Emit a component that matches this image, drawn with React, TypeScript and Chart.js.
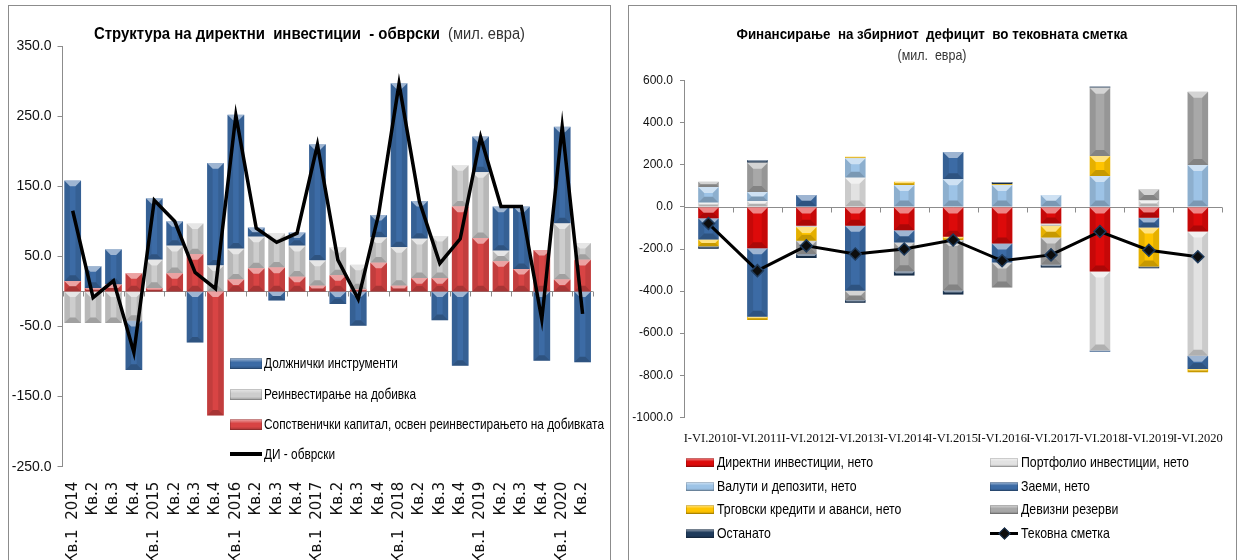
import React, { useEffect, useMemo, useRef } from "react";
import { Chart, registerables } from "chart.js";

Chart.register(...registerables);

const SANS = "'Liberation Sans', Arial, sans-serif";
const SERIF = "'Liberation Serif', serif";

// ---------- Left chart data (мил. евра) ----------
const quarterLabels = [
  "Кв.1  2014", "Кв.2", "Кв.3", "Кв.4",
  "Кв.1  2015", "Кв.2", "Кв.3", "Кв.4",
  "Кв.1  2016", "Кв.2", "Кв.3", "Кв.4",
  "Кв.1  2017", "Кв.2", "Кв.3", "Кв.4",
  "Кв.1  2018", "Кв.2", "Кв.3", "Кв.4",
  "Кв.1  2019", "Кв.2", "Кв.3", "Кв.4",
  "Кв.1  2020", "Кв.2",
];
const equityCapital = [15, 5, 10, 26, 5, 26, 53, -177, 17, 33, 34, 21, 8, 23, 3, 41, 8, 19, 19, 121, 76, 43, 32, 59, 17, 45];
const reinvestedEarnings = [-45, -45, -45, -42, 40, 39, 44, 37, 44, 45, 49, 44, 36, 40, 35, 36, 55, 56, 60, 59, 94, 15, 0, 0, 80, 24];
const debtInstruments = [143, 31, 50, -70, 88, 35, -73, 146, 191, 13, -13, 19, 166, -18, -49, 32, 234, 54, -41, -106, 51, 63, 89, -99, 138, -101];
const diLiabilities = [115, -9, 15, -87, 130, 100, 27, 4, 251, 90, 70, 83, 209, 45, -11, 110, 296, 128, 40, 75, 220, 121, 121, -40, 235, -32];
const leftTicks = { min: -250, max: 350, step: 100 };

// ---------- Right chart data (мил. евра) ----------
const periodLabels = [
  "I-VI.2010", "I-VI.2011", "I-VI.2012", "I-VI.2013", "I-VI.2014", "I-VI.2015",
  "I-VI.2016", "I-VI.2017", "I-VI.2018", "I-VI.2019", "I-VI.2020",
];
const directInv = [-54, -196, -90, -90, -111, -142, -174, -79, -307, -51, -117];
const portfolioInv = [20, 28, -5, 139, 0, 0, 0, -11, -376, 30, -590];
const currencyDeposits = [75, 43, 0, 92, 104, 131, 104, 57, 147, 0, 199];
const loans = [-101, -326, 57, -308, -58, 130, -90, 0, -5, -47, -63];
const tradeCredits = [-32, -15, -66, 8, 16, -15, 5, -55, 95, -185, -16];
const fxReserves = [25, 139, -63, -45, -137, -240, -119, -130, 324, 54, 348];
const otherItems = [-12, 13, -19, -13, -20, -19, 10, -13, 6, -9, 0];
const currentAccount = [-79, -303, -185, -224, -200, -157, -256, -228, -117, -206, -237];
const rightTicks = { min: -1000, max: 600, step: 200 };

// ---------- colours ----------
const C_BLUE = "#3C6BA5";
const C_GRAY = "#CDCDCD";
const C_RED = "#D84444";
const R_RED = "#DD0A0A";
const R_PORT = "#E2E2E2";
const R_CURR = "#9DC3E6";
const R_LOAN = "#3C6BA5";
const R_TRADE = "#FFC400";
const R_RES = "#A8A8A8";
const R_OTHER = "#1F3B5C";
const AXIS = "#8C8C8C";

// ---------- helpers ----------
let measureCtx: CanvasRenderingContext2D | null = null;
function measure(text: string, font: string) {
  if (!measureCtx) measureCtx = document.createElement("canvas").getContext("2d");
  const c = measureCtx as CanvasRenderingContext2D;
  c.font = font;
  return c.measureText(text).width;
}

// ---------- plugins ----------
const zeroLinePlugin = {
  id: "zeroLine",
  beforeDatasetsDraw(chart: any, _args: any, opts: any) {
    const { ctx, chartArea, scales } = chart;
    const xs = scales.x;
    const ys = scales.y;
    const y0 = Math.round(ys.getPixelForValue(0)) + 0.5;
    ctx.save();
    ctx.strokeStyle = opts.color || AXIS;
    ctx.lineWidth = 1;
    ctx.beginPath();
    ctx.moveTo(chartArea.left, y0);
    ctx.lineTo(chartArea.right, y0);
    const n = xs.getLabels().length;
    for (let i = 0; i <= n; i++) {
      const px = Math.round(xs.getPixelForValue(i - 0.5)) + 0.5;
      ctx.moveTo(px, y0);
      ctx.lineTo(px, y0 + (opts.tick || 5));
    }
    ctx.stroke();
    ctx.restore();
  },
};

const bevelPlugin = {
  id: "bevel",
  afterDatasetDraw(chart: any, args: any) {
    const meta = args.meta;
    if (meta.type !== "bar") return;
    const ctx = chart.ctx;
    ctx.save();
    meta.data.forEach((el: any) => {
      const { x, y, base, width } = el.getProps(["x", "y", "base", "width"], true);
      const top = Math.min(y, base);
      const bot = Math.max(y, base);
      const h = bot - top;
      if (h < 1) return;
      const l = x - width / 2;
      const r = x + width / 2;
      const d = Math.min(6, h / 2, width / 3);
      ctx.fillStyle = "rgba(255,255,255,0.5)";
      ctx.beginPath();
      ctx.moveTo(l, top); ctx.lineTo(r, top); ctx.lineTo(r - d, top + d); ctx.lineTo(l + d, top + d);
      ctx.closePath(); ctx.fill();
      ctx.fillStyle = "rgba(0,0,0,0.22)";
      ctx.beginPath();
      ctx.moveTo(l, bot); ctx.lineTo(r, bot); ctx.lineTo(r - d, bot - d); ctx.lineTo(l + d, bot - d);
      ctx.closePath(); ctx.fill();
      ctx.fillStyle = "rgba(0,0,0,0.10)";
      ctx.beginPath();
      ctx.moveTo(l, top); ctx.lineTo(l + d, top + d); ctx.lineTo(l + d, bot - d); ctx.lineTo(l, bot);
      ctx.closePath(); ctx.fill();
      ctx.beginPath();
      ctx.moveTo(r, top); ctx.lineTo(r - d, top + d); ctx.lineTo(r - d, bot - d); ctx.lineTo(r, bot);
      ctx.closePath(); ctx.fill();
    });
    ctx.restore();
  },
};

// Draws title runs; each run may be horizontally condensed to a target width.
const titlePlugin = {
  id: "titles",
  afterDraw(chart: any, _args: any, opts: any) {
    const ctx = chart.ctx;
    (opts.lines || []).forEach((line: any) => {
      ctx.save();
      ctx.textBaseline = "middle";
      ctx.textAlign = "left";
      const widths = line.parts.map((p: any) => {
        ctx.font = p.font;
        const w = ctx.measureText(p.text).width;
        return { natural: w, drawn: p.width || w };
      });
      const gaps = line.parts.map((p: any) => p.gap || 0);
      let total = 0;
      widths.forEach((w: any, i: number) => { total += w.drawn + gaps[i]; });
      let x = line.align === "center" ? line.x - total / 2 : line.x;
      line.parts.forEach((p: any, i: number) => {
        x += gaps[i];
        ctx.save();
        ctx.font = p.font;
        ctx.fillStyle = p.color || "#000";
        ctx.translate(x, line.y);
        ctx.scale(widths[i].drawn / widths[i].natural, 1);
        ctx.fillText(p.text, 0, 0);
        ctx.restore();
        x += widths[i].drawn;
      });
      ctx.restore();
    });
  },
};

function fmt(v: any) {
  return Number(v).toFixed(1);
}

// ---------- Left chart ----------
const LW = 616;
const LH = 620;

function LeftChart() {
  const ref = useRef<HTMLCanvasElement>(null);
  useEffect(() => {
    const chart = new Chart(ref.current as HTMLCanvasElement, {
      type: "bar",
      data: {
        labels: quarterLabels,
        datasets: [
          {
            type: "line",
            label: "ДИ - обврски",
            data: diLiabilities,
            borderColor: "#000",
            borderWidth: 3.5,
            pointRadius: 0,
            tension: 0,
            order: 0,
            stack: "line",
          } as any,
          { label: "Сопственички капитал, освен реинвестирањето на добивката", data: equityCapital, backgroundColor: C_RED, order: 1 },
          { label: "Реинвестирање на добивка", data: reinvestedEarnings, backgroundColor: C_GRAY, order: 1 },
          { label: "Должнички инструменти", data: debtInstruments, backgroundColor: C_BLUE, order: 1 },
        ],
      },
      options: {
        responsive: false,
        animation: false,
        devicePixelRatio: 1,
        layout: { padding: { left: 5, right: 21.5, top: 46, bottom: 0 } },
        datasets: { bar: { barPercentage: 0.82, categoryPercentage: 1, borderWidth: 0 } },
        plugins: {
          legend: { display: false },
          tooltip: { enabled: false },
          zeroLine: { color: AXIS, tick: 5 },
          titles: {
            lines: [
              {
                x: 94, y: 35, align: "left",
                parts: [
                  { text: "Структура на директни  инвестиции  - обврски", font: `bold 16px ${SANS}`, color: "#000", width: 346 },
                  { text: "(мил. евра)", font: `16px ${SANS}`, color: "#333", width: 77, gap: 8 },
                ],
              },
            ],
          },
        } as any,
        scales: {
          x: {
            stacked: true,
            grid: { display: false, drawTicks: false },
            border: { display: false },
            ticks: {
              autoSkip: false, maxRotation: 90, minRotation: 90, padding: 15,
              color: "#111", font: { family: "'DejaVu Sans', sans-serif", size: 15 },
            },
            afterFit: (s: any) => { s.height = LH - 466.7; },
          },
          y: {
            stacked: true,
            min: leftTicks.min,
            max: leftTicks.max,
            ticks: { stepSize: leftTicks.step, callback: fmt, color: "#111", padding: 6, font: { family: SANS, size: 14 } },
            grid: { display: true, drawOnChartArea: false, drawTicks: true, tickLength: 5, color: AXIS },
            border: { display: true, color: AXIS },
            afterFit: (s: any) => { s.width = 57.5; },
          },
        },
      },
      plugins: [zeroLinePlugin, bevelPlugin, titlePlugin],
    } as any);
    return () => chart.destroy();
  }, []);
  return (
    <canvas
      ref={ref}
      width={LW}
      height={LH}
      style={{ position: "absolute", left: 0, top: 0, width: LW, height: LH }}
    />
  );
}

// ---------- Right chart ----------
const RX = 620;
const RW = 617;
const RH = 560;

function RightChart() {
  const ref = useRef<HTMLCanvasElement>(null);
  useEffect(() => {
    const chart = new Chart(ref.current as HTMLCanvasElement, {
      type: "bar",
      data: {
        labels: periodLabels,
        datasets: [
          {
            type: "line",
            label: "Тековна сметка",
            data: currentAccount,
            borderColor: "#000",
            borderWidth: 3,
            pointStyle: "rectRot",
            pointRadius: 6,
            pointBackgroundColor: "#0d0d0d",
            pointBorderColor: "#1F3B5C",
            pointBorderWidth: 1.5,
            tension: 0,
            order: 0,
            stack: "line",
          } as any,
          { label: "Директни инвестиции, нето", data: directInv, backgroundColor: R_RED, order: 1 },
          { label: "Портфолио инвестиции, нето", data: portfolioInv, backgroundColor: R_PORT, order: 1 },
          { label: "Валути и депозити, нето", data: currencyDeposits, backgroundColor: R_CURR, order: 1 },
          { label: "Заеми, нето", data: loans, backgroundColor: R_LOAN, order: 1 },
          { label: "Трговски кредити и аванси, нето", data: tradeCredits, backgroundColor: R_TRADE, order: 1 },
          { label: "Девизни резерви", data: fxReserves, backgroundColor: R_RES, order: 1 },
          { label: "Останато", data: otherItems, backgroundColor: R_OTHER, order: 1 },
        ],
      },
      options: {
        responsive: false,
        animation: false,
        devicePixelRatio: 1,
        layout: { padding: { left: 8, right: 2, top: 80.7, bottom: 0 } },
        datasets: { bar: { barPercentage: 0.42, categoryPercentage: 1, borderWidth: 0 } },
        plugins: {
          legend: { display: false },
          tooltip: { enabled: false },
          zeroLine: { color: AXIS, tick: 5 },
          titles: {
            lines: [
              {
                x: 312, y: 35, align: "center",
                parts: [{ text: "Финансирање  на збирниот  дефицит  во тековната сметка", font: `bold 15px ${SANS}`, color: "#000", width: 391 }],
              },
              {
                x: 312, y: 56, align: "center",
                parts: [{ text: "(мил.  евра)", font: `15px ${SANS}`, color: "#333", width: 69 }],
              },
            ],
          },
        } as any,
        scales: {
          x: {
            stacked: true,
            grid: { display: false, drawTicks: false },
            border: { display: false },
            ticks: {
              autoSkip: false, maxRotation: 0, minRotation: 0, padding: 14,
              color: "#111", font: { family: SERIF, size: 12.5 },
            },
            afterFit: (s: any) => { s.height = RH - 417.3; },
          },
          y: {
            stacked: true,
            min: rightTicks.min,
            max: rightTicks.max,
            ticks: { stepSize: rightTicks.step, callback: fmt, color: "#111", padding: 7, font: { family: SANS, size: 12 } },
            grid: { display: true, drawOnChartArea: false, drawTicks: true, tickLength: 4, color: AXIS },
            border: { display: true, color: AXIS },
            afterFit: (s: any) => { s.width = 56; },
          },
        },
      },
      plugins: [zeroLinePlugin, bevelPlugin, titlePlugin],
    } as any);
    return () => chart.destroy();
  }, []);
  return (
    <canvas
      ref={ref}
      width={RW}
      height={RH}
      style={{ position: "absolute", left: RX, top: 0, width: RW, height: RH }}
    />
  );
}

// ---------- HTML legends ----------
function Swatch({ color, w, h }: { color: string; w: number; h: number }) {
  return (
    <span
      style={{
        display: "inline-block",
        flex: "none",
        width: w,
        height: h,
        background: `linear-gradient(to bottom, rgba(255,255,255,0.55) 0%, rgba(255,255,255,0) 40%, rgba(0,0,0,0) 70%, rgba(0,0,0,0.25) 100%), ${color}`,
        boxShadow: "inset 0 0 0 1px rgba(0,0,0,0.15)",
      }}
    />
  );
}

const leftLegendItems = [
  { label: "Должнички инструменти", color: C_BLUE, line: false },
  { label: "Реинвестирање на добивка", color: C_GRAY, line: false },
  { label: "Сопственички капитал, освен реинвестирањето на добивката", color: C_RED, line: false },
  { label: "ДИ - обврски", color: "#000", line: true },
];

const rightLegendItems = [
  { label: "Директни инвестиции, нето", color: R_RED, line: false },
  { label: "Портфолио инвестиции, нето", color: R_PORT, line: false },
  { label: "Валути и депозити, нето", color: R_CURR, line: false },
  { label: "Заеми, нето", color: R_LOAN, line: false },
  { label: "Трговски кредити и аванси, нето", color: R_TRADE, line: false },
  { label: "Девизни резерви", color: R_RES, line: false },
  { label: "Останато", color: R_OTHER, line: false },
  { label: "Тековна сметка", color: "#000", line: true },
];

const LEFT_LEG_FONT = 14.5;
const RIGHT_LEG_FONT = 14.5;

function LeftLegend() {
  const rows = [363, 394, 424, 454];
  const sx = useMemo(
    () => 340 / measure(leftLegendItems[2].label, `${LEFT_LEG_FONT}px ${SANS}`),
    []
  );
  return (
    <>
      {leftLegendItems.map((it, i) => (
        <div
          key={it.label}
          style={{
            position: "absolute", left: 230, top: rows[i] - 10, height: 20,
            display: "flex", alignItems: "center", whiteSpace: "nowrap",
            fontFamily: SANS, fontSize: LEFT_LEG_FONT, color: "#000",
          }}
        >
          {it.line ? (
            <span style={{ display: "inline-block", flex: "none", width: 32, height: 4, background: "#000" }} />
          ) : (
            <Swatch color={it.color} w={32} h={11} />
          )}
          <span style={{ marginLeft: 2, display: "inline-block", transform: `scaleX(${sx})`, transformOrigin: "left center" }}>
            {it.label}
          </span>
        </div>
      ))}
    </>
  );
}

function RightLegend() {
  const rows = [462, 486, 509, 533];
  const cols = [686, 990];
  const sx = useMemo(
    () => 156 / measure(rightLegendItems[0].label, `${RIGHT_LEG_FONT}px ${SANS}`),
    []
  );
  return (
    <>
      {rightLegendItems.map((it, i) => (
        <div
          key={it.label}
          style={{
            position: "absolute", left: cols[i % 2], top: rows[Math.floor(i / 2)] - 10, height: 20,
            display: "flex", alignItems: "center", whiteSpace: "nowrap",
            fontFamily: SANS, fontSize: RIGHT_LEG_FONT, color: "#000",
          }}
        >
          {it.line ? (
            <span style={{ position: "relative", display: "inline-block", flex: "none", width: 28, height: 12 }}>
              <span style={{ position: "absolute", left: 0, top: 4.5, width: 28, height: 3, background: "#000" }} />
              <span
                style={{
                  position: "absolute", left: 10, top: 2, width: 7, height: 7,
                  background: "#0d0d0d", border: "1px solid #1F3B5C", transform: "rotate(45deg)",
                }}
              />
            </span>
          ) : (
            <Swatch color={it.color} w={28} h={9} />
          )}
          <span style={{ marginLeft: 3, display: "inline-block", transform: `scaleX(${sx})`, transformOrigin: "left center" }}>
            {it.label}
          </span>
        </div>
      ))}
    </>
  );
}

export default function App() {
  return (
    <div
      style={{
        position: "fixed", left: 0, top: 0, width: 1237, height: 560,
        overflow: "hidden", background: "#fff",
      }}
    >
      <div style={{ position: "absolute", left: 8, top: 5, width: 601, height: 620, border: `1px solid ${AXIS}` }} />
      <div style={{ position: "absolute", left: 628, top: 5, width: 607, height: 620, border: `1px solid ${AXIS}` }} />
      <LeftChart />
      <RightChart />
      <LeftLegend />
      <RightLegend />
    </div>
  );
}
